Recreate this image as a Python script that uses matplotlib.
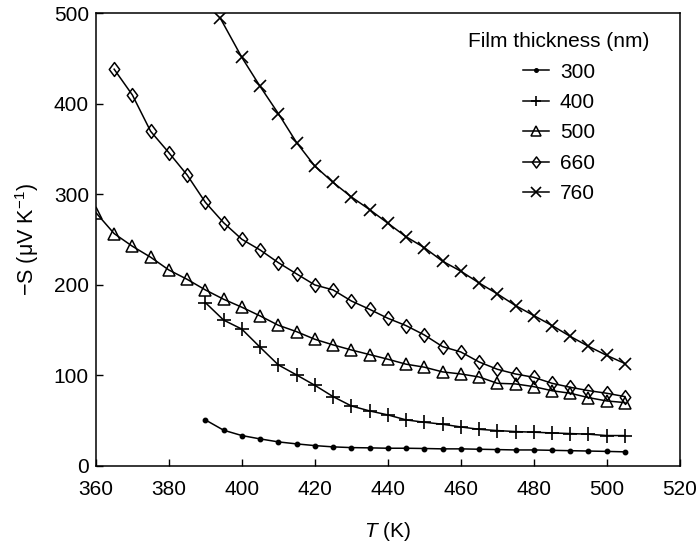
import matplotlib
matplotlib.use("Agg")
import matplotlib.pyplot as plt
from matplotlib.path import Path

plt.rcParams['font.family'] = ['Liberation Sans', 'DejaVu Sans']
plt.rcParams['mathtext.fontset'] = 'custom'
plt.rcParams['mathtext.rm'] = 'Liberation Sans'
plt.rcParams['mathtext.it'] = 'Liberation Sans:italic'

# Data (T in K, -S in uV/K)
T_300 = [390, 395, 400, 405, 410, 415, 420, 425, 430, 435, 440, 445, 450, 455,
         460, 465, 470, 475, 480, 485, 490, 495, 500, 505]
S_300 = [50.8, 39.4, 33.5, 29.8, 26.5, 24.3, 22.4, 21.0, 20.2, 19.9, 19.5, 19.5,
         19.2, 18.8, 18.8, 18.4, 18.0, 17.6, 17.6, 17.2, 16.8, 16.4, 16.0, 15.5]

T_400 = [390, 395, 400, 405, 410, 415, 420, 425, 430, 435, 440, 445, 450, 455,
         460, 465, 470, 475, 480, 485, 490, 495, 500, 505]
S_400 = [180.3, 161, 151, 131, 111.5, 100.4, 89, 76.5, 66.2, 60.7, 56.3, 50.8,
         48.2, 46, 43, 40.4, 39, 37.9, 37.2, 36.4, 35.7, 35, 33.5, 33.5]

T_500 = [360, 365, 370, 375, 380, 385, 390, 395, 400, 405, 410, 415, 420, 425,
         430, 435, 440, 445, 450, 455, 460, 465, 470, 475, 480, 485, 490, 495,
         500, 505]
S_500 = [279.6, 256.5, 242.5, 230.4, 216.3, 206, 194.3, 184, 175.2, 165.6, 155.3,
         148.2, 139.8, 133.6, 128, 122.9, 117.8, 112.3, 109, 103.8, 101.5, 98.2,
         91.2, 90.5, 87.5, 83, 80.2, 75.4, 71.7, 69.9]

T_660 = [365, 370, 375, 380, 385, 390, 395, 400, 405, 410, 415, 420, 425, 430,
         435, 440, 445, 450, 455, 460, 465, 470, 475, 480, 485, 490, 495, 500, 505]
S_660 = [438, 409.5, 369.4, 345.8, 321.2, 291, 268.5, 250.2, 238.4, 224.4, 212,
         199.8, 194.3, 182.1, 172.9, 163, 154.9, 144.6, 131.7, 125.8, 114.8, 106.7,
         101.5, 97.8, 91.2, 86.8, 83.1, 80.2, 76.5]

T_760 = [394, 400, 405, 410, 415, 420, 425, 430, 435, 440, 445, 450, 455, 460,
         465, 470, 475, 480, 485, 490, 495, 500, 505]
S_760 = [495, 451, 419, 389, 357, 331, 313, 297, 283, 268, 253, 241, 226, 215,
         202, 190, 177, 166, 155, 143, 132, 122, 113]

labels = ['300', '400', '500', '660', '760']
xticks = [360, 380, 400, 420, 440, 460, 480, 500, 520]
yticks = [0, 100, 200, 300, 400, 500]

diamond = Path([(0, 1), (0.75, 0), (0, -1), (-0.75, 0), (0, 1)],
               [Path.MOVETO, Path.LINETO, Path.LINETO, Path.LINETO, Path.CLOSEPOLY])

fig = plt.figure(figsize=(7, 5.43), dpi=100)
ax = fig.add_axes([0.137, 0.142, 0.834, 0.834])

lw = 1.1
ax.plot(T_300, S_300, '-', color='black', lw=lw, marker='o', ms=3.2,
        mfc='black', mec='black', label=labels[0])
ax.plot(T_400, S_400, '-', color='black', lw=lw, marker='+', ms=9.5,
        mew=1.2, label=labels[1])
ax.plot(T_500, S_500, '-', color='black', lw=lw, marker='^', ms=8.5,
        mfc='none', mec='black', mew=1.1, label=labels[2])
ax.plot(T_660, S_660, '-', color='black', lw=lw, marker=diamond, ms=10,
        mfc='none', mec='black', mew=1.1, label=labels[3])
ax.plot(T_760, S_760, '-', color='black', lw=lw, marker='x', ms=8.5,
        mew=1.2, label=labels[4])

ax.set_xlim(360, 520)
ax.set_ylim(0, 500)
ax.set_xticks(xticks)
ax.set_yticks(yticks)
ax.tick_params(axis='both', direction='in', length=5, width=1, labelsize=15,
               top=False, right=False)
ax.tick_params(axis='x', pad=10)
ax.tick_params(axis='y', pad=5)
for sp in ax.spines.values():
    sp.set_linewidth(1.1)

ax.set_xlabel('$T$ (K)', fontsize=15, labelpad=15)
ax.set_ylabel('\u2212S (μV K$^{\\mathregular{\u22121}}$)', fontsize=15.5, labelpad=9)

leg = ax.legend(title='Film thickness (nm)', loc='upper right', frameon=False,
                fontsize=15, title_fontsize=15, handlelength=1.25,
                handletextpad=0.53, labelspacing=0.55,
                borderpad=0, borderaxespad=0,
                bbox_to_anchor=(0.9485, 0.958), markerscale=0.8)

fig.savefig('out.png', dpi=100)
